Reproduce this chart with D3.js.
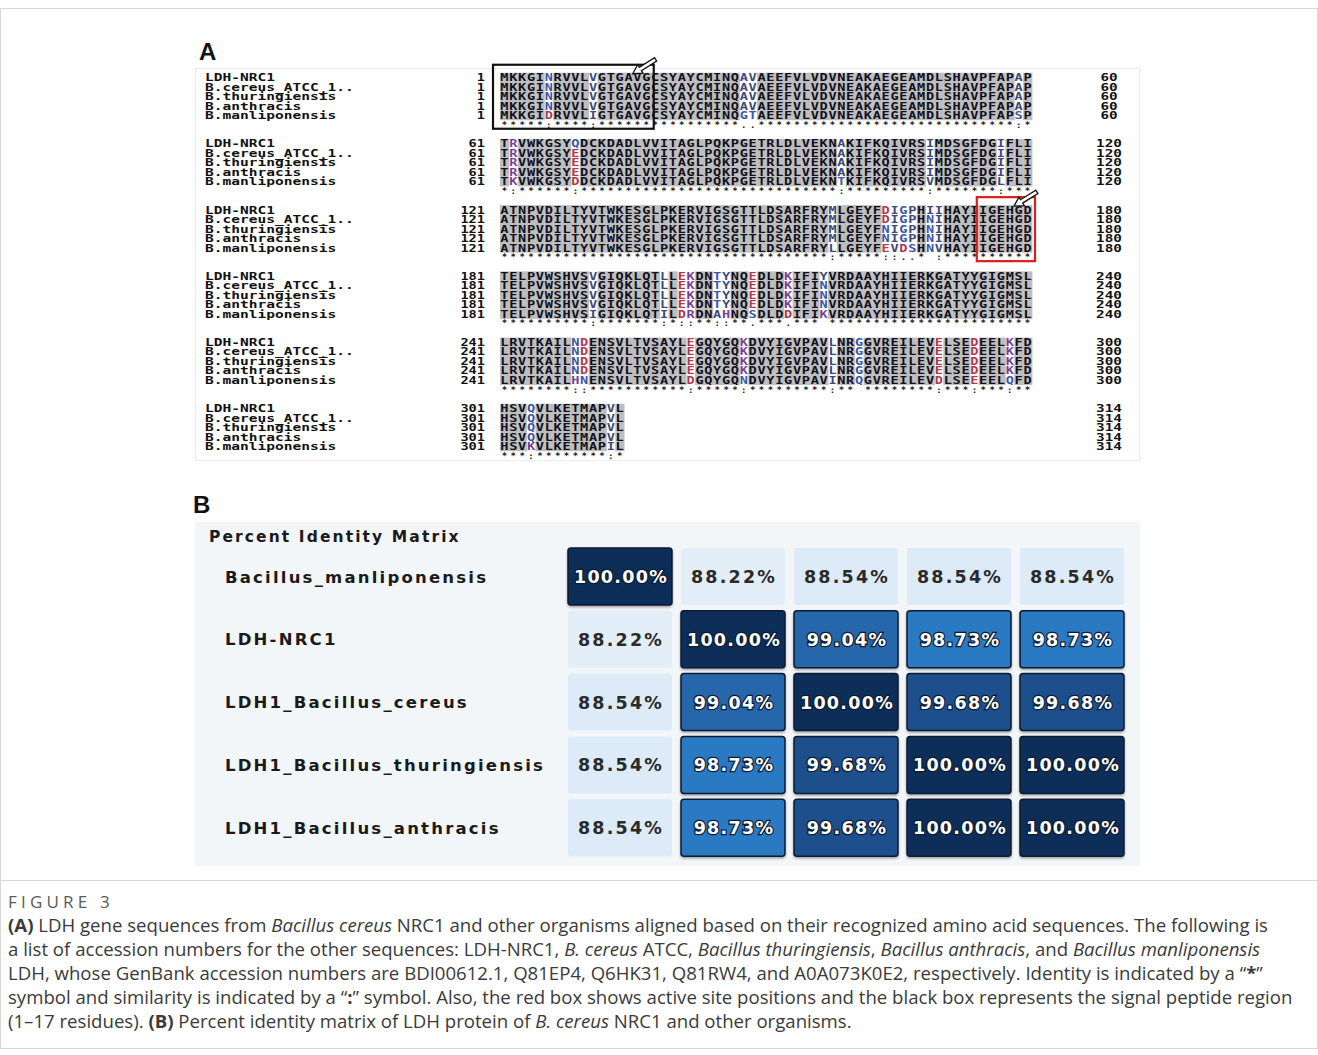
<!DOCTYPE html>
<html>
<head>
<meta charset="utf-8">
<script src="https://cdn.jsdelivr.net/npm/d3@7"></script>
<style>
  body { margin: 0; background: #fff; }
  svg { display: block; }
</style>
</head>
<body>
<svg id="fig" width="1318" height="1055"></svg>
<script>
// ---- Panel A: multiple sequence alignment of LDH proteins ----
const seqNames = ["LDH-NRC1", "B.cereus_ATCC_1..", "B.thuringiensis", "B.anthracis", "B.manliponensis"];

const seqLDH_NRC1 =
  "MKKGINRVVLVGTGAVGCSYAYCMINQAVAEEFVLVDVNEAKAEGEAMDLSHAVPFAPAP" +
  "TRVWKGSYQDCKDADLVVITAGLPQKPGETRLDLVEKNAKIFKQIVRSIMDSGFDGIFLI" +
  "ATNPVDILTYVTWKESGLPKERVIGSGTTLDSARFRYMLGEYFDIGPHIIHAYIIGEHGD" +
  "TELPVWSHVSVGIQKLQTLLEKDNTYNQEDLDKIFIYVRDAAYHIIERKGATYYGIGMSL" +
  "LRVTKAILNDENSVLTVSAYLEGQYGQKDVYIGVPAVLNRGGVREILEVELSEDEELKFD" +
  "HSVQVLKETMAPVL";
const seqCereus =
  "MKKGINRVVLVGTGAVGCSYAYCMINQAVAEEFVLVDVNEAKAEGEAMDLSHAVPFAPAP" +
  "TRVWKGSYEDCKDADLVVITAGLPQKPGETRLDLVEKNAKIFKQIVRSIMDSGFDGIFLI" +
  "ATNPVDILTYVTWKESGLPKERVIGSGTTLDSARFRYMLGEYFDIGPHNIHAYIIGEHGD" +
  "TELPVWSHVSVGIQKLQTLLEKDNTYNQEDLDKIFINVRDAAYHIIERKGATYYGIGMSL" +
  "LRVTKAILNDENSVLTVSAYLEGQYGQKDVYIGVPAVLNRGGVREILEVELSEDEELKFD" +
  "HSVQVLKETMAPVL";
const seqThuringiensis =
  "MKKGINRVVLVGTGAVGCSYAYCMINQAVAEEFVLVDVNEAKAEGEAMDLSHAVPFAPAP" +
  "TRVWKGSYEDCKDADLVVITAGLPQKPGETRLDLVEKNAKIFKQIVRSIMDSGFDGIFLI" +
  "ATNPVDILTYVTWKESGLPKERVIGSGTTLDSARFRYMLGEYFNIGPHNIHAYIIGEHGD" +
  "TELPVWSHVSVGIQKLQTLLEKDNTYNQEDLDKIFINVRDAAYHIIERKGATYYGIGMSL" +
  "LRVTKAILNDENSVLTVSAYLEGQYGQKDVYIGVPAVLNRGGVREILEVELSEDEELKFD" +
  "HSVQVLKETMAPVL";
const seqAnthracis =
  "MKKGINRVVLVGTGAVGCSYAYCMINQAVAEEFVLVDVNEAKAEGEAMDLSHAVPFAPAP" +
  "TRVWKGSYEDCKDADLVVITAGLPQKPGETRLDLVEKNAKIFKQIVRSIMDSGFDGIFLI" +
  "ATNPVDILTYVTWKESGLPKERVIGSGTTLDSARFRYMLGEYFNIGPHNIHAYIIGEHGD" +
  "TELPVWSHVSVGIQKLQTLLEKDNTYNQEDLDKIFINVRDAAYHIIERKGATYYGIGMSL" +
  "LRVTKAILNDENSVLTVSAYLEGQYGQKDVYIGVPAVLNRGGVREILEVELSEDEELKFD" +
  "HSVQVLKETMAPVL";
const seqManliponensis =
  "MKKGIDRVVLIGTGAVGCSYAYCMINQGTAEEFVLVDVNEAKAEGEAMDLSHAVPFAPSP" +
  "TKVWKGSYDDCKDADLVVITAGLPQKPGETRLDLVEKNTKIFKQIVRSVMDSGFDGLFLI" +
  "ATNPVDILTYVTWKESGLPKERVIGSGTTLDSARFRYLLGEYFEVDSHNVHAYIIGEHGD" +
  "TELPVWSHVSIGIQKLQTILDRDNAHNQSDLDDIFIKVRDAAYHIIERKGATYYGIGMSL" +
  "LRVTKAILHNENSVLTVSAYLDGQYGQNDVYIGVPAVINRQGVREILEVDLSEEEELQFD" +
  "HSVKVLKETMAPIL";
const sequences = [seqLDH_NRC1, seqCereus, seqThuringiensis, seqAnthracis, seqManliponensis];

const blockStarts = [1, 61, 121, 181, 241, 301];
const blockWidth = 60;
const signalPeptide = [1, 17];   // black box
const activeSite = [175, 180];   // red box

// ---- Panel B: percent identity matrix ----
const matrixLabels = ["Bacillus_manliponensis", "LDH-NRC1", "LDH1_Bacillus_cereus",
                      "LDH1_Bacillus_thuringiensis", "LDH1_Bacillus_anthracis"];
const identityRows = [
  [100.00, 88.22, 88.54, 88.54, 88.54],
  [88.22, 100.00, 99.04, 98.73, 98.73],
  [88.54, 99.04, 100.00, 99.68, 99.68],
  [88.54, 98.73, 99.68, 100.00, 100.00],
  [88.54, 98.73, 99.68, 100.00, 100.00]
];

// ---- Caption ----
const captionTitle = "FIGURE 3";
const captionLines = [
  [["(A)", "b"], [" LDH gene sequences from "], ["Bacillus cereus", "i"], [" NRC1 and other organisms aligned based on their recognized amino acid sequences. The following is"]],
  [["a list of accession numbers for the other sequences: LDH-NRC1, "], ["B. cereus", "i"], [" ATCC, "], ["Bacillus thuringiensis", "i"], [", "], ["Bacillus anthracis", "i"], [", and "], ["Bacillus manliponensis", "i"]],
  [["LDH, whose GenBank accession numbers are BDI00612.1, Q81EP4, Q6HK31, Q81RW4, and A0A073K0E2, respectively. Identity is indicated by a \u201c"], ["*", "b"], ["\u201d"]],
  [["symbol and similarity is indicated by a \u201c"], [":", "b"], ["\u201d symbol. Also, the red box shows active site positions and the black box represents the signal peptide region"]],
  [["(1\u201317 residues). "], ["(B)", "b"], [" Percent identity matrix of LDH protein of "], ["B. cereus", "i"], [" NRC1 and other organisms."]]
];

// Clustal-style conservation groups
const strongGroups = ["STA", "NEQK", "NHQK", "NDEQ", "QHRK", "MILV", "MILF", "HY", "FYW"];
const weakGroups = ["CSA", "ATV", "SAG", "STNK", "STPA", "SGND", "SNDEQK", "NDEQHK", "NEQHRK", "FVLIM", "HFY"];

function conservation(col) {
  if (col.every(r => r === col[0])) return "*";
  const inGroup = g => col.every(r => g.includes(r));
  if (strongGroups.some(inGroup)) return ":";
  if (weakGroups.some(inGroup)) return ".";
  return " ";
}

// residue colour for non-identical columns
function residueColor(r) {
  if ("DE".includes(r)) return "#b03a4e";
  if ("KRH".includes(r)) return "#7a3f96";
  if ("NQSTGC".includes(r)) return "#3c56a8";
  return "#3d4a7a";
}

const svg = d3.select("#fig");
const defs = svg.append("defs");
const shadow = defs.append("filter").attr("id", "cellShadow")
  .attr("x", "-10%").attr("y", "-10%").attr("width", "120%").attr("height", "130%");
shadow.append("feDropShadow").attr("dx", 0).attr("dy", 1.5).attr("stdDeviation", 1)
  .attr("flood-color", "#000").attr("flood-opacity", 0.35);

// outer frame and caption separator
svg.append("rect").attr("x", 0.5).attr("y", 8.5).attr("width", 1317).attr("height", 1040)
  .attr("fill", "none").attr("stroke", "#d8d8d8");
svg.append("line").attr("x1", 0).attr("x2", 1318).attr("y1", 880.5).attr("y2", 880.5)
  .attr("stroke", "#d8d8d8");

// ===== Panel A =====
svg.append("text").attr("x", 199).attr("y", 60).text("A")
  .attr("font-family", "Liberation Sans, Arial, sans-serif").attr("font-weight", "bold")
  .attr("font-size", 24).attr("fill", "#111");

svg.append("rect").attr("x", 195.5).attr("y", 68.5).attr("width", 944).attr("height", 392)
  .attr("fill", "#fff").attr("stroke", "#ececec");

const col = d3.scaleBand().domain(d3.range(blockWidth)).range([500, 1032]);
const rowH = 9.5;
const blockTop = d3.scaleLinear().domain([0, 1]).range([72.75, 72.75 + 66.2]);
const rowY = d3.scaleLinear().domain([0, 1]).range([0, rowH]);
const mono = "DejaVu Sans Mono, Liberation Mono, monospace";
const monoSize = 9.6;
const bw = col.bandwidth();

const gA = svg.append("g");

blockStarts.forEach((start, b) => {
  const top = blockTop(b);
  const len = Math.min(blockWidth, sequences[0].length - start + 1);
  const end = start + len - 1;
  const g = gA.append("g");
  const columns = d3.range(len).map(c => {
    const residues = sequences.map(s => s[start - 1 + c]);
    return { c, residues, mark: conservation(residues) };
  });

  // shading of fully identical columns
  g.selectAll("rect.shade").data(columns.filter(d => d.mark === "*")).join("rect")
    .attr("class", "shade")
    .attr("x", d => col(d.c)).attr("y", top)
    .attr("width", bw + 0.4).attr("height", rowY(sequences.length))
    .attr("fill", "#bebebe");

  sequences.forEach((seq, r) => {
    const baseY = top + rowY(r) + rowH / 2 + 3.6;
    // sequence name
    g.append("text").attr("x", 205).attr("y", baseY)
      .attr("font-family", mono).attr("font-weight", "bold").attr("font-size", monoSize)
      .attr("textLength", seqNames[r].length * 8.75).attr("lengthAdjust", "spacingAndGlyphs")
      .attr("fill", "#111").text(seqNames[r]);
    // start position
    const sTxt = String(start);
    g.append("text").attr("x", 485).attr("y", baseY).attr("text-anchor", "end")
      .attr("font-family", mono).attr("font-weight", "bold").attr("font-size", monoSize)
      .attr("textLength", sTxt.length * 8.2).attr("lengthAdjust", "spacingAndGlyphs")
      .attr("fill", "#111").text(sTxt);
    // end position
    const eTxt = String(end);
    g.append("text").attr("x", 1109).attr("y", baseY).attr("text-anchor", "middle")
      .attr("font-family", mono).attr("font-weight", "bold").attr("font-size", monoSize)
      .attr("textLength", eTxt.length * 8.6).attr("lengthAdjust", "spacingAndGlyphs")
      .attr("fill", "#111").text(eTxt);
    // residues
    g.append("g").selectAll("text").data(columns).join("text")
      .attr("x", d => col(d.c) + bw / 2).attr("y", baseY)
      .attr("text-anchor", "middle")
      .attr("font-family", mono).attr("font-weight", "bold").attr("font-size", monoSize)
      .attr("textLength", 8.2).attr("lengthAdjust", "spacingAndGlyphs")
      .attr("fill", d => d.mark === "*" ? "#101020" : residueColor(d.residues[r]))
      .text(d => d.residues[r]);
  });

  // conservation line
  g.append("g").selectAll("text").data(columns).join("text")
    .attr("x", d => col(d.c) + bw / 2).attr("y", top + rowY(sequences.length) + 7.5)
    .attr("text-anchor", "middle")
    .attr("font-family", mono).attr("font-weight", "bold").attr("font-size", 9)
    .attr("fill", "#222")
    .text(d => d.mark);
});

// outlined pointer arrow, tip at (x, y), pointing down-left
function pointer(x, y) {
  const shape = "M0,0 L-9,-5 L-9,-2 L-27,-2 L-27,2 L-9,2 L-9,5 Z";
  gA.append("path").attr("d", shape)
    .attr("transform", `translate(${x},${y}) rotate(148)`)
    .attr("fill", "#fff").attr("stroke", "#111").attr("stroke-width", 1.3);
}

function highlightBox(range, color) {
  const b = Math.floor((range[0] - 1) / blockWidth);
  const c0 = range[0] - blockStarts[b];
  const c1 = range[1] - blockStarts[b];
  const top = blockTop(b);
  const x0 = col(c0) - (c0 === 0 ? 7 : 2);
  const x1 = col(c1) + bw + 3;
  const y0 = top - 8;
  const y1 = top + rowY(sequences.length) + 8.5;
  gA.append("rect").attr("x", x0).attr("y", y0).attr("width", x1 - x0).attr("height", y1 - y0)
    .attr("fill", "none").attr("stroke", color).attr("stroke-width", 2.2);
  pointer(x1 - 21, y0 + 9);
}
highlightBox(signalPeptide, "#111");
highlightBox(activeSite, "#e01b1b");

// ===== Panel B =====
svg.append("text").attr("x", 193).attr("y", 513).text("B")
  .attr("font-family", "Liberation Sans, Arial, sans-serif").attr("font-weight", "bold")
  .attr("font-size", 24).attr("fill", "#111");

svg.append("rect").attr("x", 195).attr("y", 522).attr("width", 945).attr("height", 344)
  .attr("fill", "#f3f6f9");

const sansB = "DejaVu Sans, Verdana, sans-serif";
svg.append("text").attr("x", 209).attr("y", 542).text("Percent Identity Matrix")
  .attr("font-family", sansB).attr("font-weight", "bold").attr("font-size", 15.5)
  .attr("letter-spacing", 2.1).attr("fill", "#1a1a1a");

const mx = d3.scaleBand().domain(d3.range(5)).range([563.5, 1128.5]).paddingInner(0.08).paddingOuter(0.04);
const my = d3.scaleBand().domain(d3.range(5)).range([545.1, 859.1]).paddingInner(0.092).paddingOuter(0.046);
const cellColor = d3.scaleLinear()
  .domain([88.22, 98.73, 99.04, 99.68, 100])
  .range(["#e3eef9", "#2b79c3", "#2566ab", "#1c4f8c", "#0f2d58"])
  .clamp(true);

const gB = svg.append("g");
gB.selectAll("text.rowlab").data(matrixLabels).join("text")
  .attr("class", "rowlab")
  .attr("x", 225).attr("y", (d, i) => my(i) + my.bandwidth() / 2 + 6)
  .attr("font-family", sansB).attr("font-weight", "bold").attr("font-size", 16.5)
  .attr("letter-spacing", 2.2).attr("fill", "#1a1a1a")
  .text(d => d);

const cells = identityRows.flatMap((row, i) => row.map((v, j) => ({ i, j, v })));
const dark = v => v > 95;

gB.selectAll("rect.cell").data(cells).join("rect")
  .attr("class", "cell")
  .attr("x", d => mx(d.j)).attr("y", d => my(d.i))
  .attr("width", mx.bandwidth()).attr("height", my.bandwidth())
  .attr("rx", 3).attr("ry", 3)
  .attr("fill", d => cellColor(d.v))
  .attr("stroke", d => dark(d.v) ? "#0a1a30" : "none")
  .attr("stroke-width", 1.5)
  .attr("filter", d => dark(d.v) ? "url(#cellShadow)" : null);

gB.selectAll("text.val").data(cells).join("text")
  .attr("class", "val")
  .attr("x", d => mx(d.j) + mx.bandwidth() / 2 + 1)
  .attr("y", d => my(d.i) + my.bandwidth() / 2 + 6.5)
  .attr("text-anchor", "middle")
  .attr("font-family", sansB).attr("font-weight", "bold").attr("font-size", 17.5)
  .attr("letter-spacing", d => dark(d.v) ? 1.3 : 2.2)
  .attr("fill", d => dark(d.v) ? "#ffffff" : "#2a2a2a")
  .attr("stroke", d => dark(d.v) ? "#0b1a30" : "none")
  .attr("stroke-width", 2.4).attr("paint-order", "stroke")
  .text(d => d.v.toFixed(2) + "%");

// ===== Caption =====
const capFont = "Open Sans, Noto Sans, sans-serif";
svg.append("text").attr("x", 8).attr("y", 908).text(captionTitle)
  .attr("font-family", capFont).attr("font-size", 17).attr("letter-spacing", 4.2)
  .attr("fill", "#5a5a5a");

captionLines.forEach((segs, k) => {
  const t = svg.append("text").attr("x", 8).attr("y", 932 + k * 24)
    .attr("font-family", capFont).attr("font-size", 18.6).attr("fill", "#3a3a3a");
  segs.forEach(([txt, st]) => {
    t.append("tspan")
      .attr("font-weight", st === "b" ? "bold" : null)
      .attr("font-style", st === "i" ? "italic" : null)
      .text(txt);
  });
});
</script>
</body>
</html>
